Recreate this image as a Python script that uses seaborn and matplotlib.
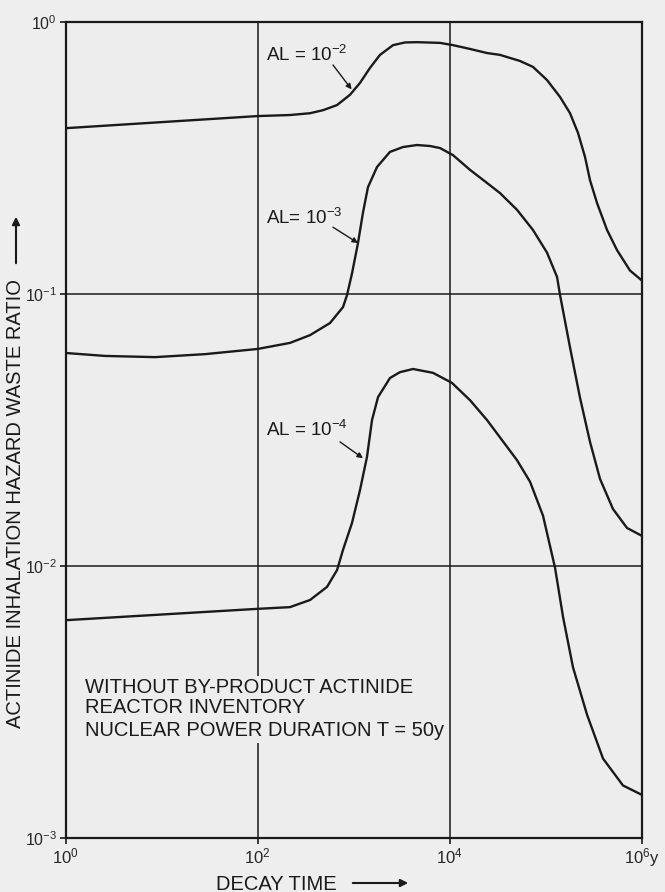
import numpy as np
import pandas as pd
import matplotlib
matplotlib.use("Agg")
import matplotlib.pyplot as plt
import matplotlib.patches as mpatches
import seaborn as sns

# ---- data (decay time in years, hazard ratio) ----
time_al2 = [1, 100, 217, 351, 479, 670, 914, 1161, 1476, 1875, 2564, 3412, 4550, 7907,
            10790, 16220, 24380, 33270, 53700, 73280, 102600, 140300, 178200, 215800,
            255300, 287700, 340400, 432500, 549500, 749900, 1000000]
ratio_al2 = [0.407, 0.451, 0.455, 0.462, 0.474, 0.495, 0.540, 0.597, 0.678, 0.757,
             0.822, 0.841, 0.843, 0.838, 0.822, 0.796, 0.769, 0.757, 0.719, 0.684,
             0.612, 0.530, 0.462, 0.391, 0.319, 0.262, 0.216, 0.172, 0.145, 0.122,
             0.112]

time_al3 = [1, 2.58, 8.55, 28.3, 100, 217, 351, 566, 773, 851, 959, 1107, 1247,
            1406, 1746, 2382, 3258, 4550, 6223, 7907, 10790, 16220, 24380, 33270,
            50000, 73280, 102600, 130600, 140300, 178200, 226500, 287700, 365600,
            498900, 698200, 1000000]
ratio_al3 = [0.0607, 0.0592, 0.0586, 0.0601, 0.0628, 0.0661, 0.0706, 0.0782, 0.0895,
             0.0991, 0.119, 0.154, 0.199, 0.247, 0.293, 0.333, 0.347, 0.353, 0.350,
             0.344, 0.324, 0.286, 0.256, 0.235, 0.204, 0.172, 0.142, 0.1155, 0.0991,
             0.0636, 0.0415, 0.0286, 0.0209, 0.0162, 0.0138, 0.0129]

time_al4 = [1, 8.55, 94, 217, 351, 527, 670, 773, 959, 1161, 1374, 1549, 1791, 2382,
            3027, 4140, 6683, 10540, 16220, 24380, 50000, 68390, 93330, 124500,
            150700, 191400, 267900, 392700, 633900, 1000000]
ratio_al4 = [0.00632, 0.00661, 0.00695, 0.00706, 0.00750, 0.00838, 0.00966, 0.01146,
             0.0144, 0.0190, 0.0252, 0.0344, 0.0418, 0.0491, 0.0516, 0.0530, 0.0513,
             0.0471, 0.0407, 0.0344, 0.0245, 0.0204, 0.0153, 0.00984, 0.00650,
             0.00424, 0.00284, 0.00196, 0.00156, 0.00144]

series_names = ["AL = 10$^{-2}$", "AL= 10$^{-3}$", "AL = 10$^{-4}$"]
x_ticks = [1, 1e2, 1e4, 1e6]
x_tick_labels = ["10$^{0}$", "10$^{2}$", "10$^{4}$", "10$^{6}$y"]
y_ticks = [1e-3, 1e-2, 1e-1, 1]
y_tick_labels = ["10$^{-3}$", "10$^{-2}$", "10$^{-1}$", "10$^{0}$"]
note_lines = ["WITHOUT BY-PRODUCT ACTINIDE", "REACTOR INVENTORY",
              "NUCLEAR POWER DURATION T = 50y"]

# label / arrow anchors (data coords)
label_pos = [(122, 0.756), (122, 0.190), (122, 0.0316)]
arrow_start = [(608, 0.695), (608, 0.176), (719, 0.0286)]
arrow_tip = [(950, 0.565), (1107, 0.154), (1247, 0.0249)]

frames = []
for name, t, r in zip(series_names, [time_al2, time_al3, time_al4],
                      [ratio_al2, ratio_al3, ratio_al4]):
    frames.append(pd.DataFrame({"time": t, "ratio": r, "curve": name}))
df = pd.concat(frames, ignore_index=True)

sns.set_style("ticks")
BG = "#ededed"
INK = "#1a1a1a"
plt.rcParams["font.family"] = ["Liberation Sans", "DejaVu Sans"]
plt.rcParams["mathtext.default"] = "regular"

fig = plt.figure(figsize=(6.65, 8.92), dpi=100, facecolor="#eeeeee")
ax = fig.add_axes([65.5 / 665, 1 - 838 / 892, 576.5 / 665, 816 / 892])
ax.set_facecolor(BG)

sns.lineplot(data=df, x="time", y="ratio", units="curve", estimator=None,
             sort=False, color=INK, lw=1.7, ax=ax, legend=False,
             solid_joinstyle="round", solid_capstyle="round")

ax.set_xscale("log")
ax.set_yscale("log")
ax.set_xlim(1, 1e6)
ax.set_ylim(1e-3, 1)
ax.set_xticks(x_ticks)
ax.set_xticklabels(x_tick_labels, fontsize=12)
ax.set_yticks(y_ticks)
ax.set_yticklabels(y_tick_labels, fontsize=11.5)
ax.minorticks_off()
ax.tick_params(direction="out", length=4, width=1.2, color=INK, pad=2)
ax.grid(True, which="major", color=INK, lw=1.1)
ax.set_axisbelow(True)
for s in ax.spines.values():
    s.set_color(INK)
    s.set_linewidth(1.6)
ax.set_xlabel("")
ax.set_ylabel("")

# curve labels + arrows
for name, lp, a0, a1 in zip(series_names, label_pos, arrow_start, arrow_tip):
    ax.text(lp[0], lp[1], name, fontsize=13.5, color=INK, ha="left", va="center")
    ax.annotate("", xy=a1, xytext=a0,
                arrowprops=dict(arrowstyle="-|>", color=INK, lw=1.0,
                                mutation_scale=8, shrinkA=0, shrinkB=0))

# note block (covers the grid lines behind it)
for line, yy in zip(note_lines, [0.184, 0.1605, 0.132]):
    ax.text(0.034, yy, line, transform=ax.transAxes, fontsize=14.5, color=INK,
            ha="left", va="center",
            bbox=dict(facecolor=BG, edgecolor="none", pad=2.0))

# axis titles with arrows
fig.text(16 / 665, 1 - 503 / 892, "ACTINIDE INHALATION HAZARD WASTE RATIO",
         rotation=90, ha="center", va="center", fontsize=14.5, color=INK)
fig.add_artist(mpatches.FancyArrowPatch(
    (16 / 665, 1 - 266 / 892), (16 / 665, 1 - 214 / 892), transform=fig.transFigure,
    arrowstyle="-|>", mutation_scale=11, lw=1.5, color=INK))
fig.text(276 / 665, 1 - 884 / 892, "DECAY TIME", ha="center", va="center",
         fontsize=14.5, color=INK)
fig.add_artist(mpatches.FancyArrowPatch(
    (350 / 665, 1 - 883 / 892), (411 / 665, 1 - 883 / 892), transform=fig.transFigure,
    arrowstyle="-|>", mutation_scale=11, lw=1.5, color=INK))

fig.savefig("out.png", dpi=100, facecolor=fig.get_facecolor())
